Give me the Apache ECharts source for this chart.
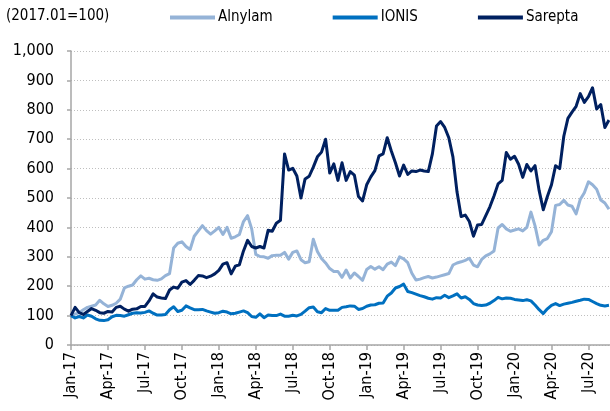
<!DOCTYPE html>
<html><head><meta charset="utf-8">
<script src="https://cdn.jsdelivr.net/npm/echarts@6/dist/echarts.min.js"></script>
<style>html,body{margin:0;padding:0;background:#fff}#c{width:610px;height:411px}</style>
</head><body><div id="c"></div>
<script>
// Index values (2017.01 = 100), sampled every 1/3 month starting Jan 2017
const seriesNames = ['Alnylam', 'IONIS', 'Sarepta'];
const tickLabels = ['Jan-17','Apr-17','Jul-17','Oct-17','Jan-18','Apr-18','Jul-18','Oct-18','Jan-19','Apr-19','Jul-19','Oct-19','Jan-20','Apr-20','Jul-20'];
const yTicks = [0,100,200,300,400,500,600,700,800,900,1000];
const stepMonths = 1/3;

const alnylam = [100,105,110,120,128,132,136,152,140,131,135,142,156,194,200,204,222,235,224,227,
  222,220,225,236,243,330,346,351,335,325,370,388,406,389,377,388,400,376,400,363,
  368,376,420,440,395,308,301,300,295,304,305,305,315,292,315,320,290,280,283,360,
  318,294,279,260,250,250,230,255,228,245,233,220,257,267,258,266,256,275,282,270,
  300,293,280,244,221,224,229,233,228,231,235,239,243,272,279,283,288,295,272,266,
  291,303,310,320,398,410,395,387,391,395,388,400,452,405,340,356,362,385,475,478,
  492,476,472,446,495,518,555,545,530,493,483,462];

const ionis = [100,92,97,92,102,98,89,84,83,86,96,101,100,98,103,108,110,109,111,116,
  108,102,102,104,120,130,114,118,133,126,120,120,121,116,112,108,110,115,112,106,
  108,112,116,110,97,94,106,93,102,100,100,105,98,98,101,99,104,115,127,129,
  113,110,124,118,118,118,128,130,133,132,121,124,132,136,137,142,143,166,177,194,
  199,207,182,178,173,168,164,159,156,161,160,169,161,167,174,160,164,155,141,136,
  134,136,142,151,162,157,160,159,155,153,151,154,150,136,120,107,123,135,141,134,
  139,142,145,149,152,156,155,148,141,135,133,135];

const sarepta = [100,128,110,104,114,124,118,110,108,114,112,128,132,122,115,122,123,131,131,150,
  174,163,160,158,187,197,193,214,219,206,220,236,235,229,234,242,254,275,280,242,
  268,273,320,356,335,330,335,330,390,387,414,424,650,595,601,575,500,565,574,605,
  640,656,700,585,616,560,620,560,590,578,505,490,545,572,593,643,650,705,660,620,
  575,612,580,592,590,595,592,590,650,745,760,740,705,640,520,437,442,420,370,408,
  410,440,470,507,548,560,655,632,642,615,570,614,592,610,525,460,505,545,610,600,
  710,771,792,812,855,825,845,875,803,818,740,765];

const colors = {Alnylam:'#95B3D7', IONIS:'#0070C0', Sarepta:'#002060'};
const FONT = "'Liberation Sans Narrow','Arial Narrow','DejaVu Sans Condensed',sans-serif";

function toPoints(arr){ return arr.map((v,i)=>[i*stepMonths, v]); }
const valuesByName = {Alnylam: alnylam, IONIS: ionis, Sarepta: sarepta};
const tickMonths = tickLabels.map((_,i)=>i*3);

const chart = echarts.init(document.getElementById('c'), null, {renderer:'canvas'});
chart.setOption({
  animation:false,
  backgroundColor:'#fff',
  title:{text:'(2017.01=100)', left:6, top:9, padding:0, textStyle:{fontFamily:FONT, fontSize:15, fontWeight:'normal', color:'#000'}},
  legend:{
    data:seriesNames, left:170, top:10, padding:0, itemWidth:45, itemHeight:4, itemGap:60, icon:'rect',
    textStyle:{fontFamily:FONT, fontSize:15, color:'#000', padding:[0,0,0,-2]}
  },
  grid:{left:71, right:0, top:51, bottom:66, containLabel:false, outerBoundsMode:'none'},
  xAxis:{
    type:'value', min:0, max:43.75, interval:3,
    axisLine:{show:true, lineStyle:{color:'#a6a6a6', width:1.5}},
    axisTick:{show:true, length:5, lineStyle:{color:'#a6a6a6', width:1.5}, customValues:tickMonths},
    axisLabel:{rotate:90, fontFamily:FONT, fontSize:16, color:'#000', margin:7, customValues:tickMonths,
      formatter:function(v){ const k=Math.round(v/3); return (Math.abs(v-k*3)<1e-6 && tickLabels[k])?tickLabels[k]:''; }},
    splitLine:{show:false}
  },
  yAxis:{
    type:'value', min:0, max:1000, interval:100,
    axisLine:{show:true, lineStyle:{color:'#a6a6a6', width:1.5}},
    axisTick:{show:true, length:4, lineStyle:{color:'#a6a6a6', width:1.5}},
    axisLabel:{fontFamily:FONT, fontSize:16, color:'#000', margin:17,
      formatter:function(v){ return yTicks.indexOf(v)>=0 ? v.toLocaleString('en-US') : ''; }},
    splitLine:{show:true, lineStyle:{color:'#bfbfbf', type:[1,2], width:1}}
  },
  series: seriesNames.map(n=>({
    name:n, type:'line', data:toPoints(valuesByName[n]), showSymbol:false, symbol:'none',
    lineStyle:{color:colors[n], width:3, join:'round'}, itemStyle:{color:colors[n]}
  }))
});
</script></body></html>
